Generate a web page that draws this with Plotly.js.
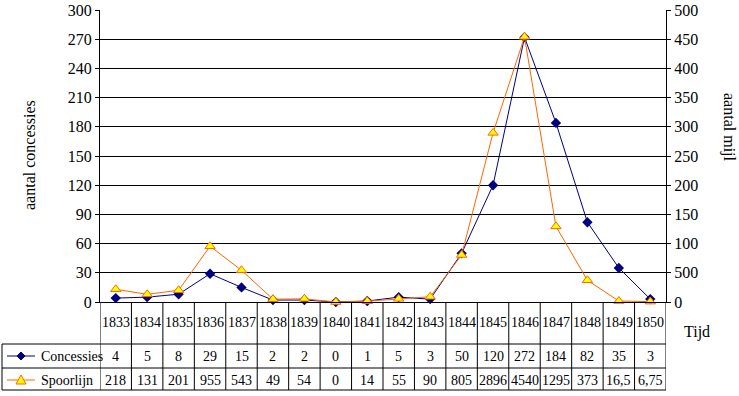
<!DOCTYPE html>
<html>
<head>
<meta charset="utf-8">
<script src="https://cdn.plot.ly/plotly-3.0.1.min.js"></script>
<style>html,body{margin:0;padding:0;background:#fff;}#chart{width:739px;height:396px;}</style>
</head>
<body>
<div id="chart"></div>
<script>
const years = ["1833","1834","1835","1836","1837","1838","1839","1840","1841","1842","1843","1844","1845","1846","1847","1848","1849","1850"];
const concessies = [4,5,8,29,15,2,2,0,1,5,3,50,120,272,184,82,35,3];
const spoorlijn = [218,131,201,955,543,49,54,0,14,55,90,805,2896,4540,1295,373,16.5,6.75];
const leftTicks = [0,30,60,90,120,150,180,210,240,270,300];
const rightTickVals = [0,50,100,150,200,250,300,350,400,450,500];
const rightTickText = ["0","500","100","150","200","250","300","350","400","450","500"];

const FONT = '"Liberation Serif", "Times New Roman", "DejaVu Serif", serif';
const L = 100, R = 666, T = 10, B = 302;
const px = v => (v - L) / (R - L);
const py = v => (B - v) / (B - T);
const idx = years.map((_, i) => i);

const traces = [
  {x: idx, y: concessies, type: 'scatter', mode: 'lines+markers', name: 'Concessies',
   line: {color: '#000080', width: 1}, marker: {symbol: 'diamond', size: 8, color: '#000080'},
   cliponaxis: false, yaxis: 'y'},
  {x: idx, y: spoorlijn.map(v => v / 10), type: 'scatter', mode: 'lines+markers', name: 'Spoorlijn',
   line: {color: '#FF6600', width: 1}, marker: {symbol: 'triangle-up', size: 9, color: '#FFFF00', line: {color: '#FF6600', width: 1}},
   cliponaxis: false, yaxis: 'y2'}
];

const shapes = [];
const line = (x0, y0, x1, y1, xref, color) => shapes.push({type: 'line', xref: xref || 'paper', yref: 'paper', x0, y0, x1, y1, line: {color: color || '#000', width: 1}});
for (let i = 0; i <= years.length; i++) line(i - 0.5, py(302), i - 0.5, py(390), 'x');
line(px(2), py(344), px(2), py(390));
[344, 368, 390].forEach(y => line(px(2), py(y), 1, py(y)));
line(px(7), py(356), px(35), py(356), 'paper', '#000080');
line(px(7), py(380), px(35), py(380), 'paper', '#FF6600');
const d = 4;
shapes.push({type: 'path', xref: 'paper', yref: 'paper', fillcolor: '#000080', line: {color: '#000080', width: 1},
  path: `M ${px(21)},${py(356 - d)} L ${px(21 + d)},${py(356)} L ${px(21)},${py(356 + d)} L ${px(21 - d)},${py(356)} Z`});
shapes.push({type: 'path', xref: 'paper', yref: 'paper', fillcolor: '#FFFF00', line: {color: '#FF6600', width: 1},
  path: `M ${px(21)},${py(375)} L ${px(26)},${py(384)} L ${px(16)},${py(384)} Z`});

const annotations = [];
const ann = (x, y, text, xref, opts) => annotations.push(Object.assign({x, y, text, xref: xref || 'paper', yref: 'paper', showarrow: false,
  xanchor: 'center', yanchor: 'middle', font: {family: FONT, size: 14, color: '#000'}}, opts || {}));
years.forEach((yr, i) => {
  ann(i, py(322), yr, 'x');
  ann(i, py(356), String(concessies[i]), 'x');
  ann(i, py(380), String(spoorlijn[i]).replace('.', ','), 'x');
});
ann(px(39), py(356), 'Concessies', 'paper', {xanchor: 'left'});
ann(px(39), py(380), 'Spoorlijn', 'paper', {xanchor: 'left'});
ann(px(697), py(332), 'Tijd', 'paper', {font: {family: FONT, size: 16, color: '#000'}});
ann(px(29), py(155), 'aantal concessies', 'paper', {textangle: -90, font: {family: FONT, size: 16, color: '#000'}});
ann(px(729), py(127), 'aantal mijl', 'paper', {textangle: 90, font: {family: FONT, size: 16, color: '#000'}});

const layout = {
  width: 739, height: 396,
  margin: {l: L, r: 739 - R, t: T, b: 396 - B, pad: 0},
  paper_bgcolor: '#fff', plot_bgcolor: '#fff',
  showlegend: false,
  font: {family: FONT, size: 16, color: '#000'},
  xaxis: {range: [-0.5, years.length - 0.5], showticklabels: false, ticks: '', showgrid: false, zeroline: false,
          showline: true, linecolor: '#000', linewidth: 1, fixedrange: true},
  yaxis: {range: [0, 300], tickvals: leftTicks, ticks: 'outside', ticklen: 4, tickcolor: '#000',
          showgrid: true, gridcolor: '#000', gridwidth: 1, zeroline: false,
          showline: true, linecolor: '#000', linewidth: 1, tickfont: {family: FONT, size: 16, color: '#000'}},
  yaxis2: {range: [0, 500], overlaying: 'y', side: 'right', tickvals: rightTickVals, ticktext: rightTickText,
           ticks: 'outside', ticklen: 4, tickcolor: '#000', showgrid: false, zeroline: false,
           showline: true, linecolor: '#000', linewidth: 1, tickfont: {family: FONT, size: 16, color: '#000'}},
  shapes, annotations
};

Plotly.newPlot('chart', traces, layout, {staticPlot: true, displayModeBar: false});
</script>
</body>
</html>
